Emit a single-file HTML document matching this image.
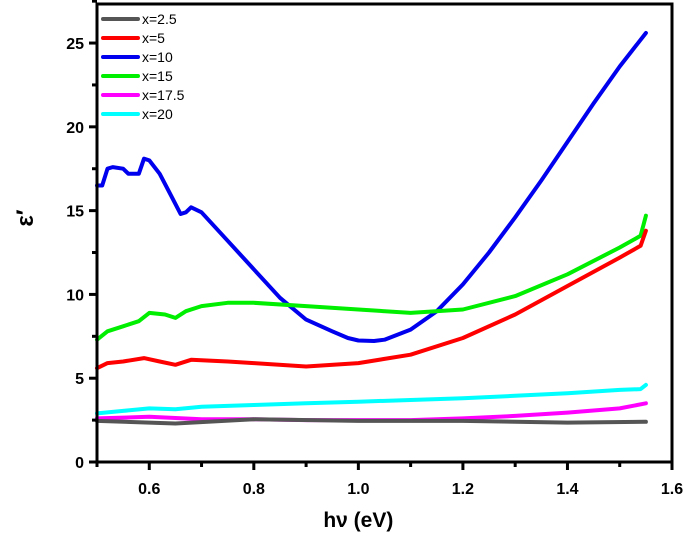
<!DOCTYPE html>
<html><head><meta charset="utf-8"><style>
body{margin:0;background:#fff}
svg{font-family:"Liberation Sans",Arial,sans-serif}
</style></head><body>
<svg id="c" width="685" height="539"></svg>
<script>
const blueX=[0.5,0.51,0.52,0.53,0.55,0.56,0.58,0.59,0.6,0.62,0.64,0.66,0.67,0.68,0.7,0.75,0.8,0.85,0.9,0.95,0.98,1.0,1.03,1.05,1.1,1.15,1.2,1.25,1.3,1.35,1.4,1.45,1.5,1.55];
const blueY=[16.5,16.5,17.5,17.6,17.5,17.2,17.2,18.1,18.0,17.2,16.0,14.8,14.9,15.2,14.9,13.2,11.5,9.8,8.5,7.8,7.4,7.25,7.22,7.3,7.9,9.0,10.6,12.5,14.6,16.8,19.1,21.4,23.6,25.6];
const greenX=[0.5,0.52,0.55,0.58,0.6,0.63,0.65,0.67,0.7,0.75,0.8,0.9,1.0,1.1,1.2,1.3,1.4,1.5,1.54,1.55];
const greenY=[7.3,7.8,8.1,8.4,8.9,8.8,8.6,9.0,9.3,9.5,9.5,9.3,9.1,8.9,9.1,9.9,11.2,12.8,13.5,14.7];
const redX=[0.5,0.52,0.55,0.59,0.62,0.65,0.68,0.75,0.8,0.9,1.0,1.1,1.2,1.3,1.4,1.5,1.54,1.55];
const redY=[5.6,5.9,6.0,6.2,6.0,5.8,6.1,6.0,5.9,5.7,5.9,6.4,7.4,8.8,10.5,12.2,12.9,13.8];
const cyanX=[0.5,0.55,0.6,0.65,0.7,0.8,0.9,1.0,1.1,1.2,1.3,1.4,1.5,1.54,1.55];
const cyanY=[2.9,3.05,3.2,3.15,3.3,3.4,3.5,3.6,3.7,3.8,3.95,4.1,4.3,4.35,4.6];
const magX=[0.5,0.6,0.7,0.8,0.9,1.0,1.1,1.2,1.3,1.4,1.5,1.55];
const magY=[2.6,2.7,2.55,2.55,2.5,2.5,2.5,2.6,2.75,2.95,3.2,3.5];
const grayX=[0.5,0.6,0.65,0.8,1.0,1.2,1.4,1.55];
const grayY=[2.45,2.35,2.3,2.55,2.45,2.45,2.35,2.4];
const xTicks=[0.6,0.8,1.0,1.2,1.4,1.6];
const yTicks=[0,5,10,15,20,25];
const legendLabels=["x=2.5","x=5","x=10","x=15","x=17.5","x=20"];
const colors=["#555555","#ff0000","#0000ee","#00ee00","#ff00ff","#00ffff"];

const L=97,R=672,T=4,B=462;
const sx=v=>L+(v-0.5)/(1.6-0.5)*(R-L);
const sy=v=>B-v/27.33*(B-T);
const svg=document.getElementById('c');
const NS='http://www.w3.org/2000/svg';
function mk(t,a,p){const e=document.createElementNS(NS,t);for(const k in a)e.setAttribute(k,a[k]);(p||svg).appendChild(e);return e;}

const series=[[grayX,grayY],[redX,redY],[blueX,blueY],[greenX,greenY],[magX,magY],[cyanX,cyanY]];
const names=["series-x2_5","series-x5","series-x10","series-x15","series-x17_5","series-x20"];
const order=[2,3,1,5,4,0];
order.forEach(i=>{
 const [X,Y]=series[i];
 const d=X.map((x,j)=>(j?'L':'M')+sx(x).toFixed(1)+','+sy(Y[j]).toFixed(1)).join('');
 const p=mk('path',{d:d,fill:'none',stroke:colors[i],'stroke-width':4,'stroke-linejoin':'round','stroke-linecap':'round'});
 
 
});
const fr=mk('rect',{x:L,y:T,width:R-L,height:B-T,fill:'none',stroke:'#000','stroke-width':3});


for(let v=0.5;v<=1.601;v+=0.1){const x=sx(v);mk('line',{x1:x,y1:B,x2:x,y2:B+(Math.round(v*10)%2==0?8:5),stroke:'#000','stroke-width':3});}
xTicks.forEach(v=>{const t=mk('text',{x:sx(v),y:B+32,'text-anchor':'middle','font-size':16,'font-weight':'bold'});t.textContent=v.toFixed(1);
 
 });
for(let v=0;v<=27.5;v+=2.5){const y=sy(v);mk('line',{x1:L,y1:y,x2:L-(v%5==0?8:5),y2:y,stroke:'#000','stroke-width':3});}
yTicks.forEach(v=>{const t=mk('text',{x:L-13,y:sy(v)+6,'text-anchor':'end','font-size':16,'font-weight':'bold'});t.textContent=v;
 
 });
const xt=mk('text',{x:sx(1.0),y:527,'text-anchor':'middle','font-size':21,'font-weight':'bold'});xt.textContent='hν (eV)';


const yt=mk('text',{x:0,y:0,'text-anchor':'middle','font-size':24,'font-weight':'bold',transform:'translate(33,218) rotate(-90)'});yt.textContent='ε\u2032';


legendLabels.forEach((lab,i)=>{
 const y=19+i*19;
 const g=mk('g',{});
 
 
 mk('line',{x1:103,y1:y,x2:138,y2:y,stroke:colors[i],'stroke-width':4,'stroke-linecap':'round'},g);
 const t=mk('text',{x:142,y:y+5,'font-size':14},g);t.textContent=lab;
});
</script>
</body></html>
